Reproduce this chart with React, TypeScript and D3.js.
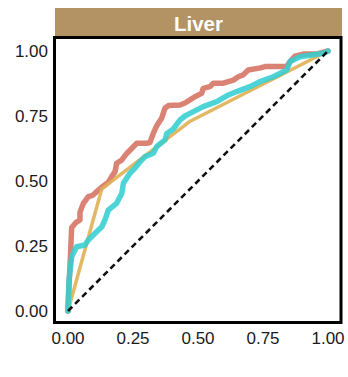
import React from "react";
import * as d3 from "d3";

const panelTitle = "Liver";
const tickValues = [0, 0.25, 0.5, 0.75, 1];
const tickLabels = ["0.00", "0.25", "0.50", "0.75", "1.00"];

const redFpr = [0, 0.004, 0.008, 0.014, 0.03, 0.046, 0.046, 0.059, 0.078, 0.095, 0.117, 0.135, 0.155, 0.168, 0.181, 0.187, 0.207, 0.226, 0.245, 0.264, 0.303, 0.315, 0.328, 0.341, 0.36, 0.373, 0.386, 0.431, 0.45, 0.469, 0.488, 0.514, 0.52, 0.546, 0.559, 0.597, 0.636, 0.655, 0.674, 0.693, 0.74, 0.758, 0.841, 0.855, 0.873, 0.905, 0.955, 1];
const redTpr = [0, 0.1, 0.18, 0.32, 0.34, 0.35, 0.38, 0.414, 0.44, 0.445, 0.465, 0.48, 0.495, 0.517, 0.536, 0.568, 0.581, 0.606, 0.625, 0.645, 0.645, 0.648, 0.683, 0.712, 0.741, 0.78, 0.79, 0.792, 0.8, 0.812, 0.824, 0.837, 0.856, 0.863, 0.876, 0.876, 0.888, 0.901, 0.908, 0.927, 0.935, 0.94, 0.94, 0.96, 0.98, 0.988, 0.988, 1];

const cyanFpr = [0, 0, 0.004, 0.014, 0.033, 0.065, 0.078, 0.11, 0.13, 0.142, 0.155, 0.187, 0.207, 0.213, 0.238, 0.258, 0.277, 0.296, 0.328, 0.341, 0.373, 0.38, 0.405, 0.431, 0.45, 0.469, 0.52, 0.572, 0.617, 0.649, 0.7, 0.738, 0.79, 0.841, 0.854, 0.892, 0.982, 1];
const cyanTpr = [0, 0.015, 0.12, 0.208, 0.247, 0.254, 0.273, 0.305, 0.324, 0.35, 0.388, 0.414, 0.453, 0.491, 0.53, 0.55, 0.574, 0.593, 0.607, 0.632, 0.658, 0.683, 0.7, 0.735, 0.75, 0.76, 0.786, 0.805, 0.831, 0.844, 0.863, 0.882, 0.901, 0.927, 0.96, 0.978, 0.991, 1];

const goldFpr = [0, 0.13, 0.47, 1];
const goldTpr = [0, 0.47, 0.73, 1];

const diagonal = [0, 1];

export default function App() {
  const W = 348, H = 377;
  const left = 55, right = 341, top = 38, bottom = 324;
  const x = d3.scaleLinear().domain([-0.05, 1.05]).range([left, right]);
  const y = d3.scaleLinear().domain([-0.05, 1.05]).range([bottom, top]);
  const line = d3.line<[number, number]>().x(d => x(d[0])).y(d => y(d[1])).curve(d3.curveLinear);
  const zip = (a: number[], b: number[]) => a.map((v, i) => [v, b[i]] as [number, number]);

  const series = [
    { pts: zip(redFpr, redTpr), color: "rgb(214,116,100)", w: 5.5, op: 0.9 },
    { pts: zip(goldFpr, goldTpr), color: "rgb(224,176,84)", w: 3.5, op: 0.9 },
    { pts: zip(cyanFpr, cyanTpr), color: "rgb(52,206,210)", w: 5.5, op: 0.88 },
  ];

  return (
    <svg width={W} height={H} style={{ position: "absolute", left: 0, top: 0, display: "block" }}
      fontFamily="'Liberation Sans', Arial, Helvetica, sans-serif">
      <rect x={0} y={0} width={W} height={H} fill="#fff" />
      <rect x={55} y={8} width={287} height={29} fill="#B39264" />
      <text x={198.5} y={31} textAnchor="middle" fill="#fff" fontWeight="bold" fontSize={20.5}>{panelTitle}</text>
      {series.map((s, i) => (
        <path key={i} d={line(s.pts) || ""} fill="none" stroke={s.color} strokeWidth={s.w}
          strokeOpacity={s.op} strokeLinejoin="round" strokeLinecap="round" />
      ))}
      <path d={line(zip(diagonal, diagonal)) || ""} fill="none" stroke="#111" strokeWidth={2.6} strokeDasharray="6,4" />
      <rect x={54.5} y={37.5} width={286.5} height={285} fill="none" stroke="#000" strokeWidth={3} />
      {tickValues.map((v, i) => (
        <text key={"y" + i} x={48} y={y(v) + 6} textAnchor="end" fontSize={17} fill="#1a1a1a">{tickLabels[i]}</text>
      ))}
      {tickValues.map((v, i) => (
        <text key={"x" + i} x={x(v)} y={344} textAnchor="middle" fontSize={17} fill="#1a1a1a">{tickLabels[i]}</text>
      ))}
    </svg>
  );
}
